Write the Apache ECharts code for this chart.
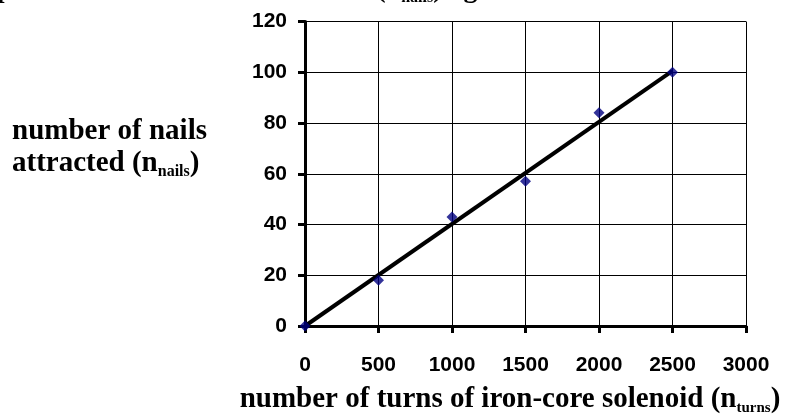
<!DOCTYPE html>
<html><head><meta charset="utf-8">
<script src="https://cdn.jsdelivr.net/npm/echarts@6/dist/echarts.min.js"></script>
<style>html,body{margin:0;padding:0;background:#fff;overflow:hidden}#c{width:788px;height:414px}</style>
</head><body><div id="c"></div>
<script>
// data
const turns = [0, 500, 1000, 1500, 2000, 2500];
const nails = [0, 18, 43, 57, 84, 100];
// best-fit line endpoints as drawn in the reference
const trendTurns = [0, 2500];
const trendNails = [0, 100.5];
// tick labels
const xTickLabels = [0, 500, 1000, 1500, 2000, 2500, 3000];
const yTickLabels = [0, 20, 40, 60, 80, 100, 120];

const SERIF = "'Liberation Serif','Times New Roman',serif";
const SANS = "'Liberation Sans',Arial,sans-serif";

function richSet(size, subSize, lh) {
  return {
    t: {fontFamily: SERIF, fontWeight: 'bold', fontSize: size, lineHeight: lh, fill: '#000', color: '#000'},
    s: {fontFamily: SERIF, fontWeight: 'bold', fontSize: subSize, lineHeight: 14, verticalAlign: 'bottom', fill: '#000', color: '#000'}
  };
}

const chart = echarts.init(document.getElementById('c'), null, {renderer: 'canvas'});
const axisCommon = {
  type: 'value',
  axisLine: {show: true, onZero: false, lineStyle: {color: '#000', width: 3}},
  axisTick: {show: true, length: 7, lineStyle: {color: '#000', width: 3}},
  splitLine: {show: true, lineStyle: {color: '#000', width: 1}},
  axisLabel: {fontFamily: SANS, fontWeight: 'bold', fontSize: 21, color: '#000', formatter: v => String(v)}
};
chart.setOption({
  animation: false,
  backgroundColor: '#fff',
  grid: {left: 305, right: 42, top: 21.5, bottom: 88, containLabel: false, outerBoundsMode: 'none'},
  xAxis: Object.assign({}, axisCommon, {
    min: xTickLabels[0], max: xTickLabels[xTickLabels.length - 1],
    interval: xTickLabels[1] - xTickLabels[0],
    axisLabel: Object.assign({}, axisCommon.axisLabel, {margin: 29})
  }),
  yAxis: Object.assign({}, axisCommon, {
    min: yTickLabels[0], max: yTickLabels[yTickLabels.length - 1],
    interval: yTickLabels[1] - yTickLabels[0],
    axisLabel: Object.assign({}, axisCommon.axisLabel, {margin: 18})
  }),
  series: [
    {
      type: 'line',
      data: trendTurns.map((x, i) => [x, trendNails[i]]),
      symbol: 'none',
      lineStyle: {color: '#000', width: 4},
      z: 3
    },
    {
      type: 'scatter',
      data: turns.map((x, i) => [x, nails[i]]),
      symbol: 'diamond',
      symbolSize: 11,
      itemStyle: {color: '#000080'},
      z: 4
    }
  ],
  graphic: [
    {
      type: 'text', z: 10,
      style: {
        x: 508, y: -26.5, align: 'center', verticalAlign: 'top',
        text: '{t|Graph of number of nails attracted (n}{s|nails}{t|) against number of turns of iron-core solenoid (n}{s|turns}{t|)}',
        rich: richSet(28, 16, 32)
      }
    },
    {
      type: 'text', z: 10,
      style: {
        x: 12, y: 115.9, align: 'left', verticalAlign: 'top',
        text: '{t|number of nails}\n{t|attracted (n}{s|nails}{t|)}',
        rich: richSet(29, 16, 32)
      }
    },
    {
      type: 'text', z: 10,
      style: {
        x: 510, y: 383.2, align: 'center', verticalAlign: 'top',
        text: '{t|number of turns of iron-core solenoid (n}{s|turns}{t|)}',
        rich: richSet(29, 15, 32)
      }
    }
  ]
});
</script>
</body></html>
